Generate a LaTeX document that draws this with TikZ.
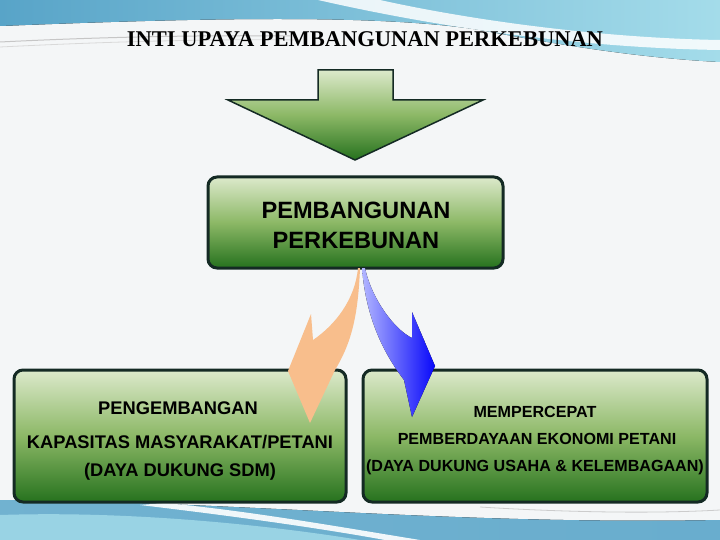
\documentclass[tikz,border=0pt]{standalone}
\usepackage{fontspec}
\setmainfont{Liberation Sans}
\newfontfamily\titlefont{Liberation Serif}
\usetikzlibrary{calc,positioning,shapes}
\definecolor{boxtop}{RGB}{220,233,203}
\definecolor{boxmid}{RGB}{140,184,102}
\definecolor{boxbot}{RGB}{38,114,30}
\definecolor{boxline}{RGB}{20,42,36}
\definecolor{peach}{RGB}{248,190,140}
\definecolor{bluelt}{RGB}{178,182,255}
\definecolor{bluedk}{RGB}{8,8,250}
\definecolor{wavedk}{RGB}{88,164,200}
\definecolor{wavelt}{RGB}{164,220,234}
\definecolor{bgcol}{RGB}{244,246,247}

\tikzset{
	greenbox/.style={draw=boxline,line width=3pt,rounded corners=9pt,
		top color=boxtop,bottom color=boxbot,middle color=boxmid},
	boxtext/.style={font=\bfseries\fontsize{18.3}{21}\selectfont,text=black},
	boxtextsmall/.style={font=\bfseries\fontsize{16.1}{19}\selectfont,text=black}
}

\begin{document}
\begin{tikzpicture}[x=1pt,y=-1pt]
		% background and waves
		\fill[bgcol] (0,0) rectangle (720,540);
		\useasboundingbox (0,0) rectangle (720,540);
		\fill[left color=wavedk,right color=wavelt] (0,0) -- (720,0) -- (720,62)
			.. controls (640,58) and (560,45) .. (480,30)
			.. controls (380,14) and (200,18) .. (0,26) -- cycle;
		\fill[white,opacity=0.85] (318,0) -- (380,0) .. controls (470,20) and (600,38) .. (720,40)
			-- (720,50) .. controls (590,48) and (450,30) .. (318,0) -- cycle;
		\draw[gray!45,line width=1pt] (0,42) .. controls (100,37) and (200,35) .. (290,36);
		\draw[gray!30,line width=0.8pt] (0,47) .. controls (120,41) and (220,39) .. (300,40);
		\fill[left color=wavedk!85,right color=wavedk!90] (0,540) -- (0,500)
			.. controls (250,502) and (450,525) .. (720,520) -- (720,540) -- cycle;
		\fill[wavelt,opacity=0.8] (0,540) -- (0,515) .. controls (150,510) and (300,530) .. (360,540) -- cycle;
		\fill[white,opacity=0.9] (140,505) .. controls (250,518) and (330,530) .. (385,540)
			-- (420,540) .. controls (340,527) and (250,511) .. (165,503) -- cycle;
		\draw[gray!40,line width=0.8pt] (480,507) .. controls (560,512) and (650,514) .. (720,510);
		% title
		\node(title) at (365,39) [font=\titlefont\bfseries\fontsize{22.5}{26}\selectfont] {INTI UPAYA PEMBANGUNAN PERKEBUNAN};
		% big arrow
		\draw[draw=boxline,line width=1.5pt,top color=boxtop,bottom color=boxbot,middle color=boxmid]
			(318,70) -- (393,70) -- (393,100) -- (483,100) -- (355,160) -- (228,100) -- (318,100) -- cycle;
		% boxes
		\node(pb) at (355.5,222.5) [greenbox,minimum width=295pt,minimum height=91pt] {};
		\node(kap) at (180,436) [greenbox,minimum width=332pt,minimum height=132pt] {};
		\node(eko) at (535,436) [greenbox,minimum width=344pt,minimum height=132pt] {};
		\node(pb1) at (356,210) [font=\bfseries\fontsize{23.6}{27}\selectfont] {PEMBANGUNAN};
		\node(pb2) at (356,240) [font=\bfseries\fontsize{23.6}{27}\selectfont] {PERKEBUNAN};
		\node(kap1) at (178,408) [boxtext] {PENGEMBANGAN};
		\node(kap2) at (180,442) [boxtext] {KAPASITAS MASYARAKAT/PETANI};
		\node(kap3) at (180,472) [boxtext] {(DAYA DUKUNG SDM)};
		\node(eko1) at (535,412) [boxtextsmall] {MEMPERCEPAT};
		\node(eko2) at (537,439) [boxtextsmall] {PEMBERDAYAAN EKONOMI PETANI};
		\node(eko3) at (535,467) [boxtextsmall] {(DAYA DUKUNG USAHA \& KELEMBAGAAN)};
		% curved arrows
		\fill[peach] (360,268) .. controls (358,320) and (350,345) .. (335,370) -- (310,423) -- (288,371)
			-- (311,314) -- (313,340) .. controls (335,325) and (355,300) .. (358,268) -- cycle;
		\fill[left color=bluelt,right color=bluedk] (362,268) .. controls (366,320) and (385,355) .. (404,380)
			-- (412,417) -- (435,366) -- (412,312) -- (412,338)
			.. controls (395,330) and (372,300) .. (365,268) -- cycle;
	\end{tikzpicture}
\end{document}
